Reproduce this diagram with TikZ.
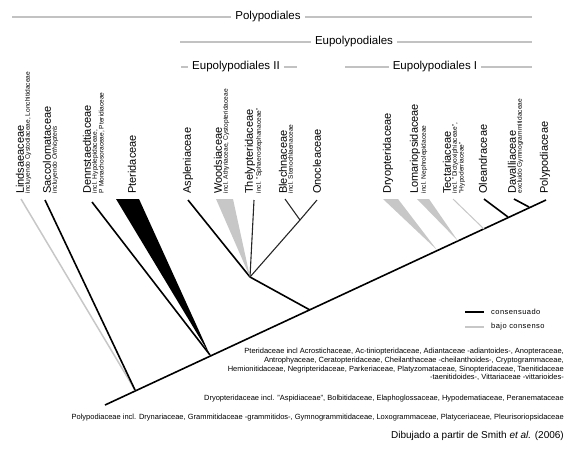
\documentclass[tikz,border=0pt]{standalone}
\usepackage{fontspec}
\setmainfont{Liberation Sans}
\newfontfamily\legfont[LetterSpace=6]{Liberation Sans}
\usetikzlibrary{positioning}
\definecolor{lowgray}{gray}{0.78}
\definecolor{hdrgray}{gray}{0.76}
\tikzset{fam/.style={rotate=90,anchor=west,inner sep=0pt,font=\fontsize{11}{12}\selectfont},
 famsub/.style={rotate=90,anchor=north west,inner sep=0.6pt,align=left,font=\fontsize{6.6}{6.9}\selectfont},
 clade/.style={inner sep=4pt,font=\fontsize{11.5}{13}\selectfont},
 hdr/.style={draw=hdrgray,line width=1.3pt},
 cons/.style={draw=black,line width=1.6pt},
 consthin/.style={draw=black!85,line width=1.1pt},
 low/.style={draw=lowgray,line width=1.5pt}}
\tikzset{note/.style={align=right,anchor=north east,inner sep=0pt,font=\fontsize{7.5}{8.7}\selectfont},
 legtxt/.style={anchor=west,inner sep=0pt,font=\legfont\fontsize{7.5}{9}\selectfont}}
\begin{document}
\begin{tikzpicture}[x=1pt,y=-1pt]
\useasboundingbox (0,0) rectangle (569,448);
% clade headers
\node[clade] (poly) at (268,17) {Polypodiales};
\coordinate (polyL) at (12,17); \coordinate (polyR) at (532,17);
\draw[hdr] (polyL)--(poly.west); \draw[hdr] (poly.east)--(polyR);
\node[clade] (eup) at (354,42) {Eupolypodiales};
\coordinate (eupL) at (180,42); \coordinate (eupR) at (532,42);
\draw[hdr] (eupL)--(eup.west); \draw[hdr] (eup.east)--(eupR);
\node[clade] (eupII) at (236,67) {Eupolypodiales II};
\coordinate (eupIIL) at (181,67); \coordinate (eupIIR) at (297,67);
\draw[hdr] (eupIIL)--(eupII.west); \draw[hdr] (eupII.east)--(eupIIR);
\node[clade] (eupI) at (435,67) {Eupolypodiales I};
\coordinate (eupIL) at (345,67); \coordinate (eupIR) at (532,67);
\draw[hdr] (eupIL)--(eupI.west); \draw[hdr] (eupI.east)--(eupIR);
% tree nodes
\coordinate (root) at (105,405);
\coordinate (nSac) at (135,390);
\coordinate (nPte) at (210,355);
\coordinate (nEup) at (310,310);
\coordinate (nEII) at (250,277);
\coordinate (nBO) at (300,220);
\coordinate (nDry) at (437,250);
\coordinate (nLom) at (458,241);
\coordinate (nTec) at (484,229);
\coordinate (nOle) at (508,217);
\coordinate (nDav) at (529,207);
% branch tips
\coordinate (tLin) at (21,199);
\coordinate (tSac) at (45,200);
\coordinate (tDen) at (92,202);
\coordinate (wPteL) at (116,199); \coordinate (wPteR) at (139,199);
\coordinate (tAsp) at (188,200);
\coordinate (wWooL) at (216,199); \coordinate (wWooR) at (233,199);
\coordinate (tThe) at (254,200);
\coordinate (tBle) at (285,199);
\coordinate (tOno) at (317,200);
\coordinate (wDryL) at (383,199); \coordinate (wDryR) at (398,199);
\coordinate (wLomL) at (417,199); \coordinate (wLomR) at (429,199);
\coordinate (tTec) at (453,199);
\coordinate (tOle) at (484,199);
\coordinate (tDav) at (514,199);
\coordinate (tPol) at (546,200);
% branches
\draw[cons] (root)--(tPol);
\draw[low] (tLin)--(nSac);
\draw[cons] (tSac)--(nSac);
\draw[cons] (tDen)--(nPte);
\fill[black] (wPteL)--(wPteR)--(nPte)--cycle;
\draw[cons] (nEup)--(nEII);
\draw[cons] (tAsp)--(nEII);
\fill[lowgray] (wWooL)--(wWooR)--(nEII)--cycle;
\draw[consthin] (tThe)--(nEII);
\draw[consthin] (nEII)--(nBO);
\draw[consthin] (tBle)--(nBO);
\draw[consthin] (tOno)--(nBO);
\fill[lowgray] (wDryL)--(wDryR)--(nDry)--cycle;
\fill[lowgray] (wLomL)--(wLomR)--(nLom)--cycle;
\draw[low,line width=1pt] (tTec)--(nTec);
\draw[cons] (tOle)--(nOle);
\draw[cons] (tDav)--(nDav);
% family labels
\node[fam] (lin) at (20,194) {Lindsaeaceae};
\node[famsub] (linS) at (lin.south west) {incluyendo Cystodiaceae, Lonchitidaceae};
\node[fam] (sac) at (47,194) {Saccolomataceae};
\node[famsub] (sacS) at (sac.south west) {incluyendo \textit{Orthiopteris}};
\node[fam] (den) at (87,194) {Dennstaedtiaceae};
\node[famsub] (denS) at (den.south west) {incl. Hypolepidaceae,\\P Monachosoraceae, Pteridiaceae};
\node[fam] (pte) at (132,194) {Pteridaceae};
\node[fam] (asp) at (188,194) {Aspleniaceae};
\node[fam] (woo) at (218,194) {Woodsiaceae};
\node[famsub] (wooS) at (woo.south west) {incl. Athyriaceae, Cystopteridaceae};
\node[fam] (the) at (250,194) {Thelypteridaceae};
\node[famsub] (theS) at (the.south west) {incl. "Sphaerostephanaceae"};
\node[fam] (ble) at (283,194) {Blechnaceae};
\node[famsub] (bleS) at (ble.south west) {incl. Stenochlaenaceae};
\node[fam] (ono) at (317,194) {Onocleaceae};
\node[fam] (dry) at (388,194) {Dryopteridaceae};
\node[fam] (lom) at (415,194) {Lomariopsidaceae};
\node[famsub] (lomS) at (lom.south west) {incl. Nephrolepidaceae};
\node[fam] (tec) at (447,194) {Tectariaceae};
\node[famsub] (tecS) at (tec.south west) {incl. "Dictyoxiphiaceae",\\"Hypoderriaceae"};
\node[fam] (ole) at (483,194) {Oleandraceae};
\node[fam] (dav) at (512,194) {Davalliaceae};
\node[famsub] (davS) at (dav.south west) {excluido Gymnogrammitidaceae};
\node[fam] (pol) at (545,194) {Polypodiaceae};
% legend
\coordinate (legA) at (465,312); \coordinate (legB) at (484,312);
\draw[cons] (legA)--(legB);
\node[legtxt] (legC) at (491,312) {consensuado};
\coordinate (legD) at (465,327); \coordinate (legE) at (484,327);
\draw[low] (legD)--(legE);
\node[legtxt] (legL) at (491,327) {bajo consenso};
% notes
\node[note] (pteN) at (564,348) {Pteridaceae incl Acrostichaceae, Ac-tiniopteridaceae, Adiantaceae -adiantoides-, Anopteraceae,\\
 Antrophyaceae, Ceratopteridaceae, Cheilanthaceae -cheilanthoides-, Cryptogrammaceae,\\
 Hemionitidaceae, Negripteridaceae, Parkeriaceae, Platyzomataceae, Sinopteridaceae, Taenitidaceae\\
 -taenitidoides-, Vittariaceae -vittarioides-};
\node[note] (dryN) at (564,395) {Dryopteridaceae incl. "Aspidiaceae", Bolbitidaceae, Elaphoglossaceae, Hypodematiaceae, Peranemataceae};
\node[note] (polN) at (564,414) {Polypodiaceae incl. Drynariaceae, Grammitidaceae -grammitidos-, Gymnogrammitidaceae, Loxogrammaceae, Platyceriaceae, Pleurisoriopsidaceae};
\node[note,font=\fontsize{10}{11}\selectfont] (src) at (564,431) {Dibujado a partir de Smith \textit{et al.} (2006)};
\end{tikzpicture}
\end{document}
